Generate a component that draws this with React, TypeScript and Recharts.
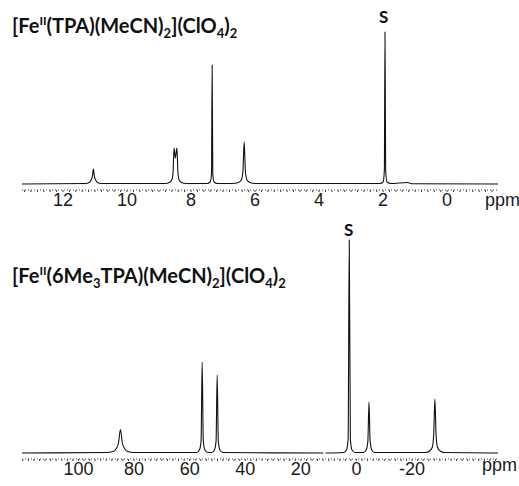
import { Line, LineChart, XAxis, YAxis } from "recharts";

// [Fe(TPA)(MeCN)2](ClO4)2 spectrum, points (ppm, height)
const topPpm = [
  13.28, 11.3, 11.18, 11.12, 11.08, 11.05, 11.02, 10.98, 10.92, 10.8,
  8.8, 8.68, 8.6, 8.56, 8.53, 8.49, 8.44, 8.41, 8.37, 8.3, 8.15,
  7.5, 7.4, 7.36, 7.34, 7.32, 7.28, 7.18,
  6.7, 6.52, 6.43, 6.38, 6.34, 6.3, 6.25, 6.16, 6.0,
  2.1, 2.0, 1.96, 1.94, 1.92, 1.88, 1.75, 1.25, 1.1, -1.59,
];
const topInt = [
  0, 0.5, 1.5, 4, 8, 15, 8, 4, 1.5, 0.5,
  0.5, 1.5, 4, 12, 36, 26, 36, 12, 4, 1.5, 0.5,
  0.5, 2, 10, 119, 10, 2, 0.5,
  0.5, 1.5, 4, 12, 42, 12, 4, 1.5, 0.5,
  0.5, 2, 14, 152, 14, 2, 0.5, 1.5, 0.3, 0,
];
const topTicks = [12, 10, 8, 6, 4, 2, 0];

// [Fe(6Me3TPA)(MeCN)2](ClO4)2 spectrum
const botPpm = [
  120.3, 90, 87.5, 86.5, 85.6, 84.9, 84.2, 83.3, 82.3, 80,
  57.5, 56.5, 55.9, 55.5, 55.1, 54.5, 53.5,
  52, 51.1, 50.5, 50.1, 49.7, 49.1, 48,
  11.9, 11.5, 11.1,
  4.5, 3.6, 3.0, 2.6, 2.2, 1.6, 0.5,
  -2.5, -3.5, -4.1, -4.5, -4.9, -5.5, -6.5,
  -25, -26.3, -27.3, -27.8, -28.2, -28.6, -29.1, -30.1, -31.5, -50.9,
];
const botInt: (number | null)[] = [
  0, 0.5, 1.5, 4, 10, 23.5, 10, 4, 1.5, 0.5,
  0.5, 3, 12, 91, 12, 3, 0.5,
  0.5, 3, 12, 78, 12, 3, 0.5,
  0, null, 0,
  0.5, 3, 14, 213, 14, 3, 0.5,
  0.5, 3, 12, 51, 12, 3, 0.5,
  0.5, 2, 6, 20, 54, 20, 6, 2, 0.5, 0,
];
const botTicks = [100, 80, 60, 40, 20, 0, -20];

const topData = topPpm.map((ppm, i) => ({ ppm, v: topInt[i] }));
const botData = botPpm.map((ppm, i) => ({ ppm, v: botInt[i] }));

function minorTicks(from: number, to: number, step: number) {
  const out: number[] = [];
  for (let v = from; v >= to - 1e-9; v -= step) out.push(Math.round(v * 100) / 100);
  return out;
}

const font = "'Liberation Sans', Arial, sans-serif";
const titleFont = "Lato, 'Open Sans', sans-serif";

function Spectrum({
  data, domain, ticks, majors, yMax, top, height,
}: {
  data: { ppm: number; v: number | null }[];
  domain: [number, number];
  ticks: number[];
  majors: number[];
  yMax: number;
  top: number;
  height: number;
}) {
  return (
    <div style={{ position: "absolute", left: 0, top }}>
      <LineChart width={519} height={height} data={data} margin={{ top: 0, right: 21, left: 22, bottom: 0 }}>
        <XAxis
          dataKey="ppm"
          type="number"
          reversed
          domain={domain}
          ticks={ticks}
          interval={0}
          allowDataOverflow
          tickSize={2}
          tickMargin={1}
          axisLine={{ stroke: "#444", strokeDasharray: "1 2" }}
          tickLine={{ stroke: "#444" }}
          tick={{ fontSize: 18, fill: "#1a1a1a", fontFamily: font }}
          tickFormatter={(v: number) => (majors.some((m) => Math.abs(m - v) < 1e-6) ? String(v) : "")}
          height={26}
        />
        <YAxis hide domain={[-6, yMax]} allowDataOverflow />
        <Line
          type="monotone"
          dataKey="v"
          stroke="#111"
          strokeWidth={1.1}
          dot={false}
          isAnimationActive={false}
        />
      </LineChart>
    </div>
  );
}

const titleStyle = {
  position: "absolute" as const,
  left: 12,
  fontFamily: titleFont,
  fontWeight: 700,
  fontSize: 20,
  color: "#111",
  lineHeight: "28px",
  whiteSpace: "nowrap" as const,
};

export default function App() {
  return (
    <div style={{ position: "fixed", left: 0, top: 0, width: 519, height: 486, background: "#fff", overflow: "hidden" }}>
      <Spectrum
        data={topData}
        domain={[-1.59, 13.28]}
        ticks={minorTicks(13.2, -1.4, 0.2)}
        majors={topTicks}
        yMax={154}
        top={30}
        height={186}
      />
      <Spectrum
        data={botData}
        domain={[-50.9, 120.3]}
        ticks={minorTicks(120, -50, 2)}
        majors={botTicks}
        yMax={214}
        top={239}
        height={246}
      />
      <div style={{ ...titleStyle, top: 7 }}>
        [Fe<sup style={{ fontSize: 12 }}>II</sup>(TPA)(MeCN)<sub style={{ fontSize: 13 }}>2</sub>](ClO<sub style={{ fontSize: 13 }}>4</sub>)<sub style={{ fontSize: 13 }}>2</sub>
      </div>
      <div style={{ ...titleStyle, top: 257 }}>
        [Fe<sup style={{ fontSize: 12 }}>II</sup>(6Me<sub style={{ fontSize: 13 }}>3</sub>TPA)(MeCN)<sub style={{ fontSize: 13 }}>2</sub>](ClO<sub style={{ fontSize: 13 }}>4</sub>)<sub style={{ fontSize: 13 }}>2</sub>
      </div>
      <div style={{ position: "absolute", left: 379, top: 6, fontFamily: titleFont, fontWeight: 700, fontSize: 17, color: "#111" }}>S</div>
      <div style={{ position: "absolute", left: 344, top: 219, fontFamily: titleFont, fontWeight: 700, fontSize: 17, color: "#111" }}>S</div>
      <div style={{ position: "absolute", left: 485, top: 190, fontFamily: font, fontSize: 18, color: "#1a1a1a" }}>ppm</div>
      <div style={{ position: "absolute", left: 482, top: 455, fontFamily: font, fontSize: 18, color: "#1a1a1a" }}>ppm</div>
    </div>
  );
}
